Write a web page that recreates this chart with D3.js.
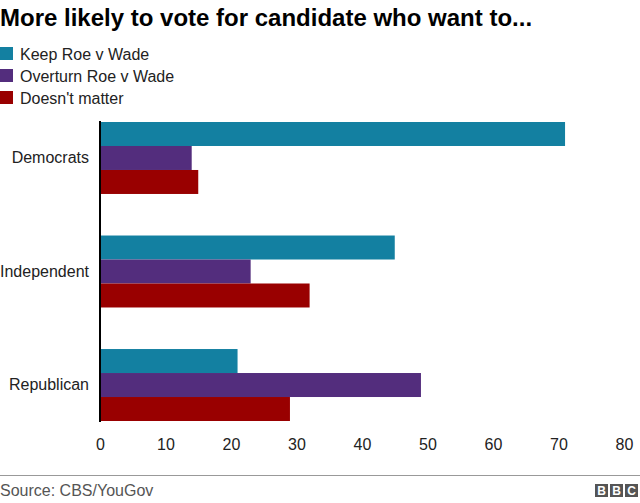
<!DOCTYPE html>
<html><head><meta charset="utf-8">
<script src="https://cdn.jsdelivr.net/npm/d3@7"></script>
<style>body{margin:0;background:#fff;}svg{display:block;font-family:"Liberation Sans",Arial,sans-serif;}</style>
</head><body>
<svg id="c" width="640" height="503"></svg>
<script>
const categories = ["Democrats", "Independent", "Republican"];
const seriesNames = ["Keep Roe v Wade", "Overturn Roe v Wade", "Doesn't matter"];
const keepValues = [71, 45, 21];
const overturnValues = [14, 23, 49];
const doesntMatterValues = [15, 32, 29];
const tickValues = [0, 10, 20, 30, 40, 50, 60, 70, 80];
const colors = ["#1380a1", "#532d7d", "#990000"];

const seriesValues = [keepValues, overturnValues, doesntMatterValues];
const svg = d3.select("#c");

svg.append("text").attr("x", 0).attr("y", 26).attr("font-size", 24).attr("font-weight", "bold")
  .attr("fill", "#000").text("More likely to vote for candidate who want to...");

const lg = svg.append("g");
seriesNames.forEach((n, i) => {
  lg.append("rect").attr("x", 0).attr("y", 47 + i * 22).attr("width", 13).attr("height", 13).attr("fill", colors[i]);
  lg.append("text").attr("x", 20).attr("y", 60 + i * 22).attr("font-size", 16).attr("fill", "#222").text(n);
});

const x = d3.scaleLinear().domain([0, 80]).range([100, 624]);
const y = d3.scaleBand().domain(categories).range([122, 421]).paddingInner(0.366).paddingOuter(0);
const ys = d3.scaleBand().domain(seriesNames).range([0, y.bandwidth()]);

const g = svg.append("g");
categories.forEach((c, ci) => {
  seriesNames.forEach((s, si) => {
    g.append("rect").attr("x", x(0)).attr("y", y(c) + ys(s))
      .attr("width", x(seriesValues[si][ci]) - x(0)).attr("height", ys.bandwidth())
      .attr("fill", colors[si]);
  });
});

const yAxis = d3.axisLeft(y).tickSize(0).tickPadding(11);
const ya = svg.append("g").attr("transform", `translate(${x(0)},0)`).call(yAxis);
ya.select(".domain").remove();
ya.selectAll("text").attr("font-size", 16).attr("fill", "#222").attr("font-family", "Liberation Sans, Arial, sans-serif");
svg.append("line").attr("x1", x(0)).attr("x2", x(0)).attr("y1", 121).attr("y2", 422)
  .attr("stroke", "#000").attr("stroke-width", 2);

const xAxis = d3.axisBottom(x).tickValues(tickValues).tickSize(0).tickPadding(0);
const xa = svg.append("g").attr("transform", "translate(0,439)").call(xAxis);
xa.select(".domain").remove();
xa.selectAll("text").attr("font-size", 16).attr("fill", "#222").attr("font-family", "Liberation Sans, Arial, sans-serif");

svg.append("line").attr("x1", 0).attr("x2", 640).attr("y1", 475.5).attr("y2", 475.5).attr("stroke", "#999").attr("stroke-width", 1);
svg.append("text").attr("x", 0).attr("y", 496).attr("font-size", 16).attr("fill", "#555").text("Source: CBS/YouGov");

const logo = svg.append("g");
["B", "B", "C"].forEach((l, i) => {
  const bx = 595 + i * 15;
  logo.append("rect").attr("x", bx).attr("y", 484).attr("width", 13).attr("height", 13).attr("fill", "#555");
  logo.append("text").attr("x", bx + 6.5).attr("y", 495).attr("text-anchor", "middle").attr("font-size", 12)
    .attr("font-weight", "bold").attr("fill", "#fff").text(l);
});
</script>
</body></html>
